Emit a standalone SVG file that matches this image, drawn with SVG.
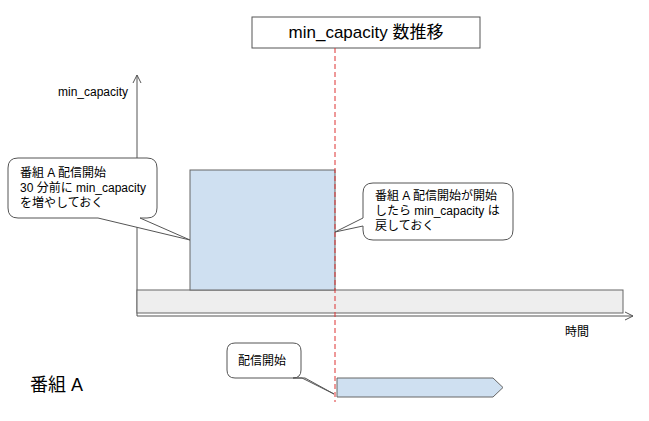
<svg xmlns="http://www.w3.org/2000/svg" width="649" height="421" viewBox="0 0 649 421">
<style>
text{font-family:"Liberation Sans","Noto Sans CJK JP",sans-serif;fill:#000}
.s{font-size:12px}
.call{fill:#fff;stroke:#555;stroke-width:1}
.blue{fill:#cfe0f1;stroke:#666;stroke-width:1}
</style>
<defs><marker id="ar" markerWidth="10" markerHeight="10" refX="8" refY="5" orient="auto" markerUnits="userSpaceOnUse"><path d="M0,1 L8,5 L0,9" fill="none" stroke="#555"/></marker></defs>
<rect width="649" height="421" fill="#fff"/>
<g id="title"><rect x="252" y="17" width="228" height="31" fill="#fff" stroke="#555"/><text x="366" y="38" font-size="17" text-anchor="middle">min_capacity 数推移</text></g>
<g id="axes" stroke="#555" fill="none">
<line x1="137" y1="316" x2="137" y2="75" marker-end="url(#ar)"/>
<line x1="137" y1="316" x2="633" y2="316" marker-end="url(#ar)"/>
</g>
<text class="s" x="58" y="96">min_capacity</text>
<text class="s" x="565" y="336">時間</text>
<g id="bar"><rect x="137" y="290" width="486" height="23" fill="#eee" stroke="#666"/></g>
<g id="block"><rect class="blue" x="190" y="170" width="145" height="120"/></g>
<g id="connectors"><line x1="335" y1="48" x2="335" y2="402" stroke="#d33" stroke-dasharray="5,3"/></g>
<g id="c1"><path class="call" d="M18,158 H147 Q157,158 157,168 V208 Q157,218 147,218 H140 L190,240 L98,218 H18 Q8,218 8,208 V168 Q8,158 18,158 Z"/>
<text class="s" x="20" y="177">番組 A 配信開始</text><text class="s" x="20" y="192">30 分前に min_capacity</text><text class="s" x="20" y="207">を増やしておく</text></g>
<g id="c2"><path class="call" d="M373,183 H503 Q513,183 513,193 V230 Q513,240 503,240 H373 Q363,240 363,230 V226 L335,232 L363,218 V193 Q363,183 373,183 Z"/>
<text class="s" x="375" y="200">番組 A 配信開始が開始</text><text class="s" x="375" y="215">したら min_capacity は</text><text class="s" x="375" y="230">戻しておく</text></g>
<g id="c3"><path class="call" d="M235,343 H293 Q301,343 301,351 V370 Q301,378 293,378 H305 L334,394 L302,378 H235 Q227,378 227,370 V351 Q227,343 235,343 Z"/>
<text class="s" x="238" y="365">配信開始</text></g>
<g id="prog"><path class="blue" d="M337,378 H493 L503,387.5 L493,397 H337 Z"/></g>
<text x="30" y="391" font-size="18">番組 A</text>
</svg>
